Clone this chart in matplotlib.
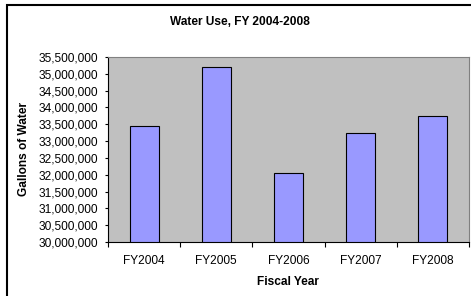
import matplotlib
matplotlib.use('agg')
import matplotlib.pyplot as plt
from matplotlib.patches import Rectangle
from matplotlib.ticker import FuncFormatter, FixedLocator
import numpy as np

plt.rcParams['font.family'] = ['Liberation Sans', 'DejaVu Sans']

years = ['FY2004', 'FY2005', 'FY2006', 'FY2007', 'FY2008']
gallons = [33450000, 35200000, 32050000, 33250000, 33750000]
y_ticks = np.arange(30000000, 35500001, 500000)

W, H = 471, 296
FS = 8.6
fig = plt.figure(figsize=(W / 100, H / 100), dpi=100)

# chart area border (runs off the right and bottom edges)
fig.patches.append(Rectangle((6.5 / W, -0.1), 1.2, 1 - 4.5 / H + 0.1,
                             transform=fig.transFigure, fill=False,
                             edgecolor='black', linewidth=1.5))

ax = fig.add_axes([108 / W, 1 - 242 / H, (469 - 108) / W, (242 - 57) / H])
ax.set_facecolor('#C0C0C0')

x = np.arange(len(years))
ax.bar(x, gallons, width=0.4, bottom=0, color='#9999FF',
       edgecolor='black', linewidth=0.8, zorder=2)

ax.set_xlim(-0.5, len(years) - 0.5)
ax.set_ylim(30000000, 35500000)
ax.set_yticks(y_ticks)
ax.yaxis.set_major_formatter(FuncFormatter(lambda v, p: f'{int(v):,}'))
ax.set_xticks(x)
ax.set_xticklabels(years)
ax.xaxis.set_minor_locator(FixedLocator(np.arange(-0.5, len(years), 1.0)))

ax.tick_params(axis='y', direction='out', length=2.5, width=0.8, pad=4.5,
               labelsize=FS, colors='black')
ax.tick_params(axis='x', which='major', length=0, pad=9, labelsize=FS)
ax.tick_params(axis='x', which='minor', direction='out', length=3.5, width=0.8)

for side in ['left', 'bottom']:
    ax.spines[side].set_color('black')
    ax.spines[side].set_linewidth(0.8)
for side in ['top', 'right']:
    ax.spines[side].set_color('#808080')
    ax.spines[side].set_linewidth(0.8)

fig.text(240 / W, 1 - 22 / H, 'Water Use, FY 2004-2008', ha='center',
         va='center', fontsize=FS, fontweight='bold')
fig.text(288 / W, 1 - 282 / H, 'Fiscal Year', ha='center', va='center',
         fontsize=FS, fontweight='bold')
fig.text(24 / W, 1 - 149 / H, 'Gallons of Water', ha='center', va='center',
         rotation=90, fontsize=FS, fontweight='bold')

fig.savefig('out.png', dpi=100)
